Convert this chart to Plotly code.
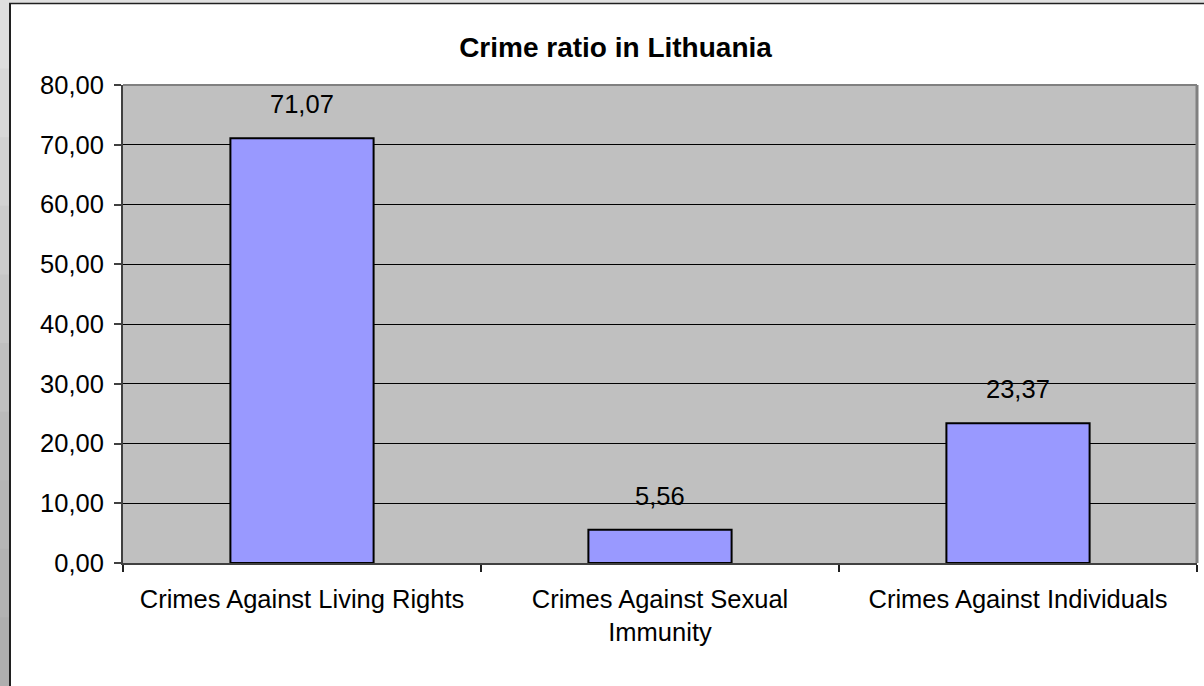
import plotly.graph_objects as go

categories = ["Crimes Against Living Rights", "Crimes Against Sexual<br>Immunity", "Crimes Against Individuals"]
values = [71.07, 5.56, 23.37]
value_labels = ["71,07", "5,56", "23,37"]
y_ticks = [0, 10, 20, 30, 40, 50, 60, 70, 80]

W, H = 1204, 686
L, R, T, B = 123, 7, 85, 123
PW, PH = W - L - R, H - T - B

def px(x):
    return (x - L) / PW

def py(y):
    return (H - B - y) / PH

FONT = "Liberation Sans, Arial, sans-serif"
FS = 25.5

fig = go.Figure()
fig.add_trace(go.Bar(
    x=categories, y=values,
    marker=dict(color="#9999ff", line=dict(color="#000000", width=2)),
    width=0.4,
    hoverinfo="skip",
))

for c, v, t in zip(categories, values, value_labels):
    fig.add_annotation(x=c, y=v, text=t, showarrow=False, yanchor="middle", yshift=34,
                       font=dict(family=FONT, size=FS, color="#000000"))

shapes = []
# left gradient strip
bands = ["#dedede", "#d8d8d8", "#d2d2d2", "#cccccc", "#c6c6c6", "#c0c0c0", "#bababa", "#b6b6b6", "#b2b2b2", "#aeaeae"]
n = len(bands)
for i, col in enumerate(bands):
    y0 = i * H / n
    y1 = (i + 1) * H / n + 1
    shapes.append(dict(type="rect", xref="paper", yref="paper", x0=px(0), x1=px(9), y0=py(y1), y1=py(y0),
                       fillcolor=col, line=dict(width=0), layer="below"))
# top strip
shapes.append(dict(type="rect", xref="paper", yref="paper", x0=px(9), x1=px(W), y0=py(3), y1=py(0),
                   fillcolor="#e0e0e0", line=dict(width=0), layer="below"))
# black border lines
shapes.append(dict(type="line", xref="paper", yref="paper", x0=px(10), x1=px(10), y0=py(H), y1=py(3),
                   line=dict(color="#202020", width=2)))
shapes.append(dict(type="line", xref="paper", yref="paper", x0=px(9), x1=px(W), y0=py(3.5), y1=py(3.5),
                   line=dict(color="#202020", width=1.5)))
# plot area top/right border
shapes.append(dict(type="line", xref="paper", yref="paper", x0=0, x1=1, y0=1, y1=1,
                   line=dict(color="#808080", width=2)))
shapes.append(dict(type="line", xref="paper", yref="paper", x0=1, x1=1, y0=0, y1=1,
                   line=dict(color="#808080", width=3)))

fig.update_layout(
    width=W, height=H,
    margin=dict(l=L, r=R, t=T, b=B, autoexpand=False),
    paper_bgcolor="#ffffff",
    plot_bgcolor="#c0c0c0",
    separators=",.",
    showlegend=False,
    bargap=0.6,
    shapes=shapes,
    title=dict(text="<b>Crime ratio in Lithuania</b>", x=px(615.5), xref="paper", xanchor="center",
               y=1 - 47 / H, yanchor="middle",
               font=dict(family=FONT, size=28, color="#000000")),
    font=dict(family=FONT, size=FS, color="#000000"),
)
fig.update_yaxes(
    range=[0, 80], tickvals=y_ticks, tickformat=".2f",
    showgrid=True, gridcolor="#000000", gridwidth=1,
    showline=True, linecolor="#404040", linewidth=2,
    ticks="outside", ticklen=7, tickcolor="#404040", tickwidth=1.5,
    ticklabelstandoff=5,
    tickfont=dict(family=FONT, size=FS, color="#000000"),
    zeroline=False, fixedrange=True,
)
fig.update_xaxes(
    type="category", range=[-0.5, 2.5],
    showline=True, linecolor="#404040", linewidth=2,
    ticks="outside", tickson="boundaries", ticklen=7, tickcolor="#202020", tickwidth=2,
    ticklabelstandoff=12,
    tickfont=dict(family=FONT, size=FS, color="#000000"),
    showgrid=False, fixedrange=True,
)

fig.write_html("out.html", config={"displayModeBar": False},
               post_script="document.body.style.margin='0';document.body.style.overflow='hidden';")
